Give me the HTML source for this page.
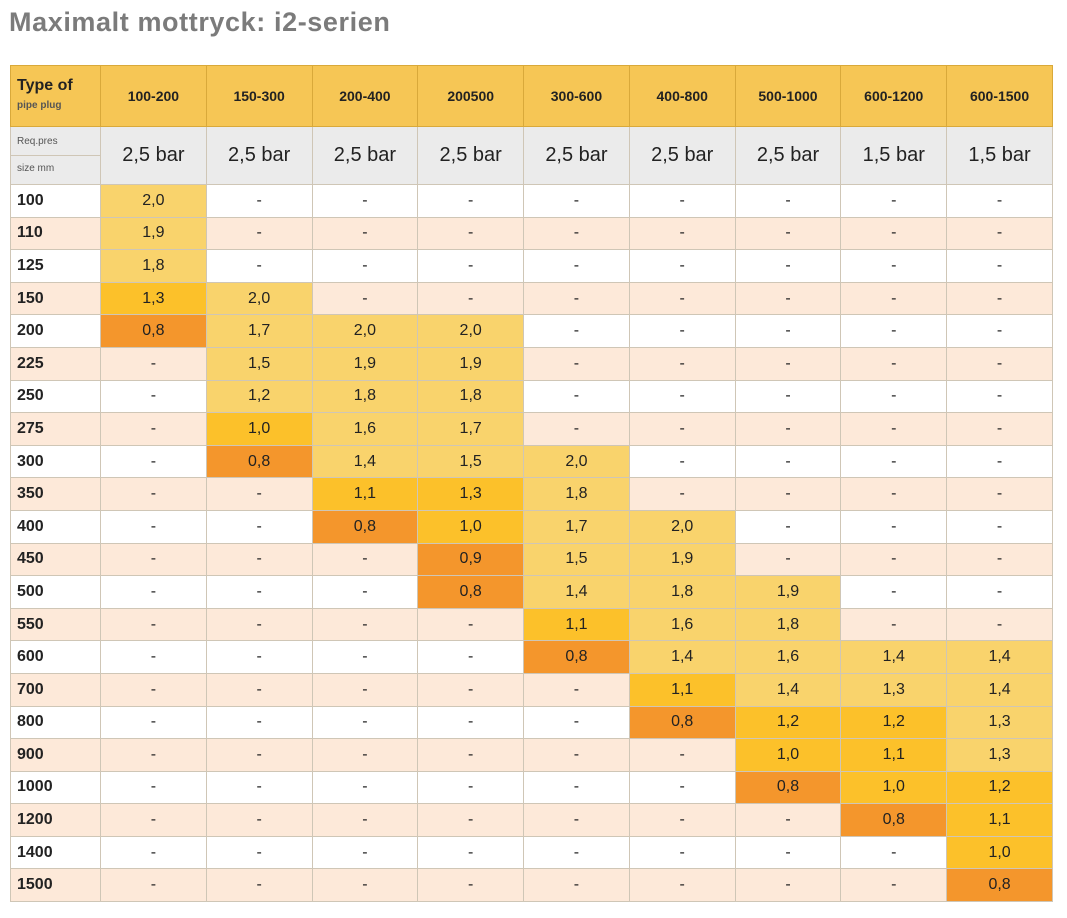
<!DOCTYPE html>
<html><head><meta charset="utf-8"><style>
body{margin:0;background:#fff;width:1067px;height:918px;overflow:hidden;font-family:"Liberation Sans",sans-serif}
h1{position:absolute;left:9px;top:7px;margin:0;font-size:27px;color:#7b7b7b;font-weight:bold;letter-spacing:0.6px}
table{position:absolute;left:10px;top:65px;border-collapse:collapse;table-layout:fixed;width:1043px}
td{border:1px solid #cfc6b6;text-align:center;font-size:16px;color:#222;padding:0;height:31.6px}
td:first-child{text-align:left;padding-left:6px;font-weight:bold;font-size:16px}
tr.h td{background:#f6c655;height:60px;font-weight:bold;font-size:14px;border-color:#d9a93a}
tr.h td:first-child{font-size:16px;line-height:18px}
tr.h td:first-child small{font-size:10px;color:#555}
tr.r td{background:#ebebeb;height:57px;font-size:20px}
tr.r td:first-child{font-size:10px;font-weight:normal;color:#555;line-height:26px;padding:0;}
tr.a td{background:#fde9d9}
td.l{background:#f9d36c!important}
td.m{background:#fcc12a!important}
td.o{background:#f4962c!important}
</style></head><body>
<h1>Maximalt mottryck: i2-serien</h1>
<table>
<colgroup><col style="width:90px"><col span="9"></colgroup>
<tr class="h"><td>Type of<br><small>pipe plug</small></td><td>100-200</td><td>150-300</td><td>200-400</td><td>200500</td><td>300-600</td><td>400-800</td><td>500-1000</td><td>600-1200</td><td>600-1500</td></tr>
<tr class="r"><td><div style="border-bottom:1px solid #cfc6b6;padding-left:6px">Req.pres</div><div style="padding-left:6px">size mm</div></td><td>2,5 bar</td><td>2,5 bar</td><td>2,5 bar</td><td>2,5 bar</td><td>2,5 bar</td><td>2,5 bar</td><td>2,5 bar</td><td>1,5 bar</td><td>1,5 bar</td></tr>
<tr><td>100</td><td class="l">2,0</td><td>-</td><td>-</td><td>-</td><td>-</td><td>-</td><td>-</td><td>-</td><td>-</td></tr>
<tr class="a"><td>110</td><td class="l">1,9</td><td>-</td><td>-</td><td>-</td><td>-</td><td>-</td><td>-</td><td>-</td><td>-</td></tr>
<tr><td>125</td><td class="l">1,8</td><td>-</td><td>-</td><td>-</td><td>-</td><td>-</td><td>-</td><td>-</td><td>-</td></tr>
<tr class="a"><td>150</td><td class="m">1,3</td><td class="l">2,0</td><td>-</td><td>-</td><td>-</td><td>-</td><td>-</td><td>-</td><td>-</td></tr>
<tr><td>200</td><td class="o">0,8</td><td class="l">1,7</td><td class="l">2,0</td><td class="l">2,0</td><td>-</td><td>-</td><td>-</td><td>-</td><td>-</td></tr>
<tr class="a"><td>225</td><td>-</td><td class="l">1,5</td><td class="l">1,9</td><td class="l">1,9</td><td>-</td><td>-</td><td>-</td><td>-</td><td>-</td></tr>
<tr><td>250</td><td>-</td><td class="l">1,2</td><td class="l">1,8</td><td class="l">1,8</td><td>-</td><td>-</td><td>-</td><td>-</td><td>-</td></tr>
<tr class="a"><td>275</td><td>-</td><td class="m">1,0</td><td class="l">1,6</td><td class="l">1,7</td><td>-</td><td>-</td><td>-</td><td>-</td><td>-</td></tr>
<tr><td>300</td><td>-</td><td class="o">0,8</td><td class="l">1,4</td><td class="l">1,5</td><td class="l">2,0</td><td>-</td><td>-</td><td>-</td><td>-</td></tr>
<tr class="a"><td>350</td><td>-</td><td>-</td><td class="m">1,1</td><td class="m">1,3</td><td class="l">1,8</td><td>-</td><td>-</td><td>-</td><td>-</td></tr>
<tr><td>400</td><td>-</td><td>-</td><td class="o">0,8</td><td class="m">1,0</td><td class="l">1,7</td><td class="l">2,0</td><td>-</td><td>-</td><td>-</td></tr>
<tr class="a"><td>450</td><td>-</td><td>-</td><td>-</td><td class="o">0,9</td><td class="l">1,5</td><td class="l">1,9</td><td>-</td><td>-</td><td>-</td></tr>
<tr><td>500</td><td>-</td><td>-</td><td>-</td><td class="o">0,8</td><td class="l">1,4</td><td class="l">1,8</td><td class="l">1,9</td><td>-</td><td>-</td></tr>
<tr class="a"><td>550</td><td>-</td><td>-</td><td>-</td><td>-</td><td class="m">1,1</td><td class="l">1,6</td><td class="l">1,8</td><td>-</td><td>-</td></tr>
<tr><td>600</td><td>-</td><td>-</td><td>-</td><td>-</td><td class="o">0,8</td><td class="l">1,4</td><td class="l">1,6</td><td class="l">1,4</td><td class="l">1,4</td></tr>
<tr class="a"><td>700</td><td>-</td><td>-</td><td>-</td><td>-</td><td>-</td><td class="m">1,1</td><td class="l">1,4</td><td class="l">1,3</td><td class="l">1,4</td></tr>
<tr><td>800</td><td>-</td><td>-</td><td>-</td><td>-</td><td>-</td><td class="o">0,8</td><td class="m">1,2</td><td class="m">1,2</td><td class="l">1,3</td></tr>
<tr class="a"><td>900</td><td>-</td><td>-</td><td>-</td><td>-</td><td>-</td><td>-</td><td class="m">1,0</td><td class="m">1,1</td><td class="l">1,3</td></tr>
<tr><td>1000</td><td>-</td><td>-</td><td>-</td><td>-</td><td>-</td><td>-</td><td class="o">0,8</td><td class="m">1,0</td><td class="m">1,2</td></tr>
<tr class="a"><td>1200</td><td>-</td><td>-</td><td>-</td><td>-</td><td>-</td><td>-</td><td>-</td><td class="o">0,8</td><td class="m">1,1</td></tr>
<tr><td>1400</td><td>-</td><td>-</td><td>-</td><td>-</td><td>-</td><td>-</td><td>-</td><td>-</td><td class="m">1,0</td></tr>
<tr class="a"><td>1500</td><td>-</td><td>-</td><td>-</td><td>-</td><td>-</td><td>-</td><td>-</td><td>-</td><td class="o">0,8</td></tr>
</table>
</body></html>
